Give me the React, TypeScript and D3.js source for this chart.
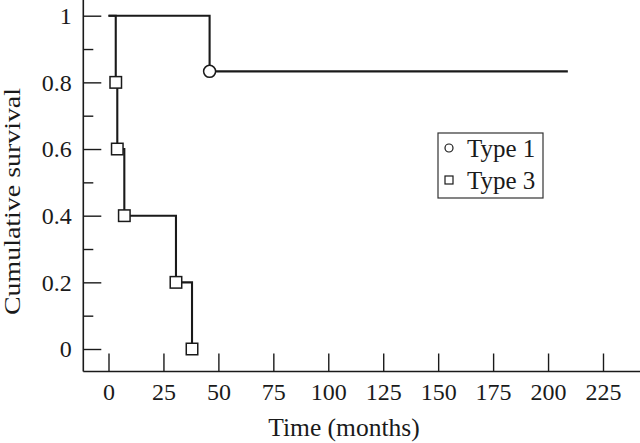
import React, { useRef, useEffect } from 'react';
import * as d3 from 'd3';

// Kaplan-Meier steps (months, survival after the event)
const type1Times = [46];
const type1Surv = [0.833];
const type1End = 209;

const type3Times = [3.3, 4, 7.2, 30.7, 38];
const type3Surv = [0.8, 0.6, 0.4, 0.2, 0];

const xTicks = [0, 25, 50, 75, 100, 125, 150, 175, 200, 225];
const yTicks = [0, 0.2, 0.4, 0.6, 0.8, 1];
const yMinorTicks = [0.1, 0.3, 0.5, 0.7, 0.9];

const legendLabels = ['Type 1', 'Type 3'];

const W = 640;
const H = 443;
const FONT = 'Liberation Serif, Times New Roman, serif';
const INK = '#1a1a1a';

const stepPoints = (times: number[], surv: number[], end?: number) => {
  const pts: [number, number][] = [[0, 1]];
  let level = 1;
  times.forEach((t, i) => {
    pts.push([t, level]);
    level = surv[i];
    pts.push([t, level]);
  });
  if (end !== undefined) pts.push([end, level]);
  return pts;
};

const App = () => {
  const svgRef = useRef<SVGSVGElement | null>(null);

  useEffect(() => {
    const svg = d3.select(svgRef.current);
    svg.selectAll('*').remove();

    const axisX = 83.3;
    const axisY = 371.5;

    const x = d3.scaleLinear().domain([0, 225]).range([108.5, 603]);
    const y = d3.scaleLinear().domain([0, 1]).range([349, 15.7]);

    // axis frame
    svg.append('line')
      .attr('x1', axisX).attr('x2', axisX)
      .attr('y1', 0).attr('y2', axisY)
      .attr('stroke', INK).attr('stroke-width', 1.6);
    svg.append('line')
      .attr('x1', axisX).attr('x2', W)
      .attr('y1', axisY).attr('y2', axisY)
      .attr('stroke', INK).attr('stroke-width', 1.6);

    const styleAxis = (g: any) => {
      g.attr('font-family', FONT).attr('font-size', 24);
      g.select('.domain').remove();
      g.selectAll('.tick line').attr('stroke', INK).attr('stroke-width', 1.4);
      g.selectAll('.tick text')
        .attr('fill', INK)
        .attr('font-family', FONT)
        .attr('font-size', 24);
    };

    svg.append('g')
      .attr('transform', `translate(0,${axisY})`)
      .call(d3.axisBottom(x).tickValues(xTicks).tickSize(-18).tickPadding(11).tickFormat(d3.format('d')) as any)
      .call(styleAxis);

    svg.append('g')
      .attr('transform', `translate(${axisX},0)`)
      .call(d3.axisLeft(y).tickValues(yTicks).tickSize(-18).tickPadding(11.5).tickFormat((d: any) => String(d)) as any)
      .call(styleAxis);

    svg.append('g')
      .attr('transform', `translate(${axisX},0)`)
      .call(d3.axisLeft(y).tickValues(yMinorTicks).tickSize(-10).tickFormat(() => '') as any)
      .call(styleAxis);

    // axis titles
    svg.append('text')
      .attr('x', 344).attr('y', 436)
      .attr('text-anchor', 'middle')
      .attr('fill', INK)
      .attr('font-family', FONT).attr('font-size', 25.5)
      .text('Time (months)');

    svg.append('text')
      .attr('transform', 'translate(20,201.5) rotate(-90)')
      .attr('text-anchor', 'middle')
      .attr('fill', INK)
      .attr('textLength', 227)
      .attr('lengthAdjust', 'spacingAndGlyphs')
      .attr('font-family', FONT).attr('font-size', 24)
      .text('Cumulative survival');

    const line = d3.line<[number, number]>()
      .x(d => x(d[0]))
      .y(d => y(d[1]));

    svg.append('path')
      .attr('d', line(stepPoints(type1Times, type1Surv, type1End)))
      .attr('fill', 'none').attr('stroke', INK).attr('stroke-width', 2.1);

    svg.append('path')
      .attr('d', line(stepPoints(type3Times, type3Surv)))
      .attr('fill', 'none').attr('stroke', INK).attr('stroke-width', 2.1);

    // markers
    svg.selectAll('circle.m1')
      .data(type1Times)
      .enter().append('circle')
      .attr('class', 'm1')
      .attr('cx', d => x(d))
      .attr('cy', (d, i) => y(type1Surv[i]))
      .attr('r', 6)
      .attr('fill', 'white').attr('stroke', INK).attr('stroke-width', 1.5);

    const sq = 11.5;
    svg.selectAll('rect.m3')
      .data(type3Times)
      .enter().append('rect')
      .attr('class', 'm3')
      .attr('x', d => x(d) - sq / 2)
      .attr('y', (d, i) => y(type3Surv[i]) - sq / 2)
      .attr('width', sq).attr('height', sq)
      .attr('fill', 'white').attr('stroke', INK).attr('stroke-width', 1.5);

    // legend
    const lg = svg.append('g');
    lg.append('rect')
      .attr('x', 438).attr('y', 133).attr('width', 105).attr('height', 65)
      .attr('fill', 'white').attr('stroke', '#333').attr('stroke-width', 1.2);
    lg.append('circle')
      .attr('cx', 449).attr('cy', 148).attr('r', 4)
      .attr('fill', 'white').attr('stroke', INK).attr('stroke-width', 1.2);
    lg.append('rect')
      .attr('x', 445).attr('y', 176).attr('width', 8).attr('height', 8)
      .attr('fill', 'white').attr('stroke', INK).attr('stroke-width', 1.2);
    lg.selectAll('text')
      .data(legendLabels)
      .enter().append('text')
      .attr('x', 467)
      .attr('y', (d, i) => 157 + i * 32)
      .attr('fill', INK)
      .attr('font-family', FONT).attr('font-size', 25)
      .text(d => d);
  }, []);

  return (
    <svg
      ref={svgRef}
      width={W}
      height={H}
      style={{ position: 'absolute', left: 0, top: 0, background: 'white' }}
    />
  );
};

export default App;
